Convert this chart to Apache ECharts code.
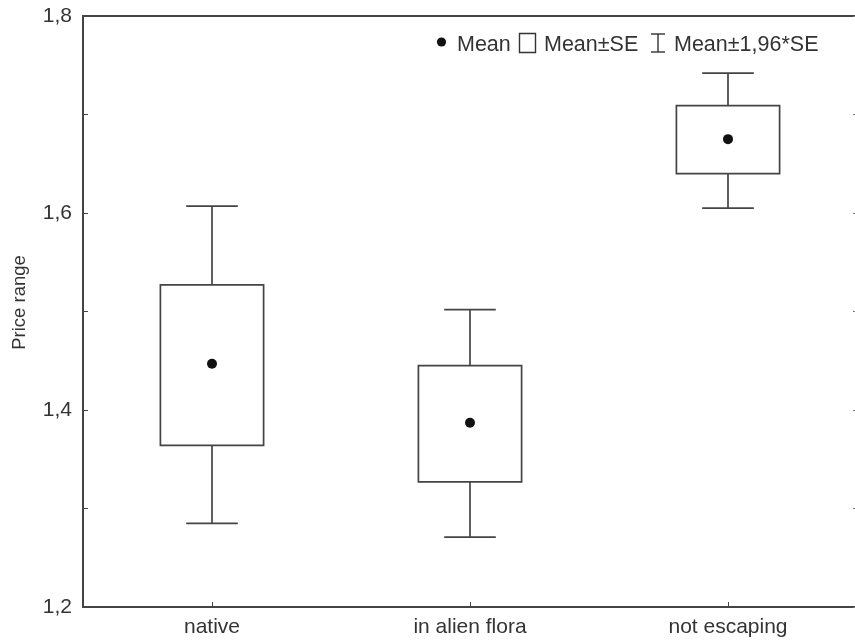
<!DOCTYPE html>
<html><head><meta charset="utf-8">
<script src="https://cdn.jsdelivr.net/npm/echarts@6/dist/echarts.min.js"></script>
<style>html,body{margin:0;padding:0;background:#fff}#c{width:855px;height:644px}</style>
</head><body><div id="c"></div>
<script>
const categories = ['native', 'in alien flora', 'not escaping'];
const means = [1.447, 1.387, 1.675];
const seLow = [1.364, 1.327, 1.640];
const seHigh = [1.527, 1.445, 1.709];
const ciLow = [1.285, 1.271, 1.605];
const ciHigh = [1.607, 1.502, 1.742];
const yTicks = [1.2, 1.4, 1.6, 1.8];
const legendLabels = ['Mean', 'Mean±SE', 'Mean±1,96*SE'];

const lineColor = '#444';
const textColor = '#333';
const font = 'Liberation Sans, Arial, sans-serif';

const chart = echarts.init(document.getElementById('c'));

const whiskerData = categories.map((c, i) => [i, ciLow[i], ciHigh[i], seLow[i], seHigh[i]]);
const boxData = categories.map((c, i) => [i, seLow[i], seHigh[i]]);

const legTextStyle = (text, x) => ({
  type: 'text', left: x, top: 34,
  style: { text, fontSize: 21.5, fill: textColor, fontFamily: font }
});

chart.setOption({
  animation: false,
  textStyle: { fontFamily: font },
  grid: { left: 83, right: -2, top: 16, bottom: 37, outerBoundsMode: 'none', containLabel: false },
  graphic: [
    { type: 'circle', shape: { cx: 441.5, cy: 42, r: 4.6 }, style: { fill: '#111' } },
    legTextStyle(legendLabels[0], 457),
    { type: 'rect', shape: { x: 519.5, y: 33.5, width: 16, height: 19 }, style: { fill: '#fff', stroke: '#333', lineWidth: 1.4 } },
    legTextStyle(legendLabels[1], 544),
    { type: 'polyline', shape: { points: [[651, 34], [665, 34]] }, style: { stroke: '#333', lineWidth: 1.4 } },
    { type: 'polyline', shape: { points: [[658, 34], [658, 52]] }, style: { stroke: '#333', lineWidth: 1.4 } },
    { type: 'polyline', shape: { points: [[651, 52], [665, 52]] }, style: { stroke: '#333', lineWidth: 1.4 } },
    legTextStyle(legendLabels[2], 674)
  ],
  xAxis: [{
    type: 'category', data: categories, position: 'bottom',
    axisLine: { lineStyle: { color: lineColor, width: 2 } },
    axisTick: { show: true, inside: true, length: 5, alignWithLabel: true, lineStyle: { color: lineColor } },
    axisLabel: { fontSize: 21, color: textColor, margin: 10 },
    splitLine: { show: false }
  }, {
    type: 'category', data: categories, position: 'top',
    axisLine: { lineStyle: { color: lineColor, width: 2 } },
    axisTick: { show: false }, axisLabel: { show: false }
  }],
  yAxis: [{
    type: 'value', min: 1.2, max: 1.8, interval: 0.1,
    name: 'Price range', nameLocation: 'middle', nameGap: 54,
    nameTextStyle: { fontSize: 18.5, color: textColor, padding: [0, 0, 0, 18] },
    axisLine: { show: true, lineStyle: { color: lineColor, width: 2 } },
    axisTick: { show: true, inside: true, length: 5, lineStyle: { color: lineColor } },
    axisLabel: {
      fontSize: 21, color: textColor, margin: 11,
      formatter: v => {
        const r = Math.round(v * 10) / 10;
        return yTicks.some(t => Math.abs(t - r) < 1e-6) ? r.toFixed(1).replace('.', ',') : '';
      }
    },
    splitLine: { show: false }
  }, {
    type: 'value', min: 1.2, max: 1.8, interval: 0.1, position: 'right',
    axisLine: { show: false },
    axisTick: { show: true, inside: true, length: 4, lineStyle: { color: '#777' } },
    axisLabel: { show: false }, splitLine: { show: false }
  }],
  series: [{
    name: 'Mean±1,96*SE', type: 'custom', data: whiskerData,
    encode: { x: 0, y: [1, 2, 3, 4] },
    renderItem: (params, api) => {
      const x = api.value(0);
      const lo = api.coord([x, api.value(1)]);
      const hi = api.coord([x, api.value(2)]);
      const bLo = api.coord([x, api.value(3)]);
      const bHi = api.coord([x, api.value(4)]);
      const bw = api.size([1, 0])[0];
      const cap = bw * 0.2;
      const st = { stroke: lineColor, lineWidth: 1.7, fill: null };
      return { type: 'group', children: [
        { type: 'line', shape: { x1: lo[0], y1: lo[1], x2: bLo[0], y2: bLo[1] }, style: st },
        { type: 'line', shape: { x1: hi[0], y1: hi[1], x2: bHi[0], y2: bHi[1] }, style: st },
        { type: 'line', shape: { x1: lo[0] - cap / 2, y1: lo[1], x2: lo[0] + cap / 2, y2: lo[1] }, style: st },
        { type: 'line', shape: { x1: hi[0] - cap / 2, y1: hi[1], x2: hi[0] + cap / 2, y2: hi[1] }, style: st }
      ]};
    }
  }, {
    name: 'Mean±SE', type: 'custom', data: boxData,
    encode: { x: 0, y: [1, 2] },
    renderItem: (params, api) => {
      const x = api.value(0);
      const lo = api.coord([x, api.value(1)]);
      const hi = api.coord([x, api.value(2)]);
      const bw = api.size([1, 0])[0] * 0.4;
      return { type: 'rect', shape: { x: lo[0] - bw / 2, y: hi[1], width: bw, height: lo[1] - hi[1] },
        style: { stroke: lineColor, lineWidth: 1.7, fill: '#fff' } };
    }
  }, {
    name: 'Mean', type: 'scatter', data: categories.map((c, i) => [i, means[i]]),
    symbol: 'circle', symbolSize: 10, itemStyle: { color: '#111', opacity: 1 }, z: 5
  }]
});
</script></body></html>
